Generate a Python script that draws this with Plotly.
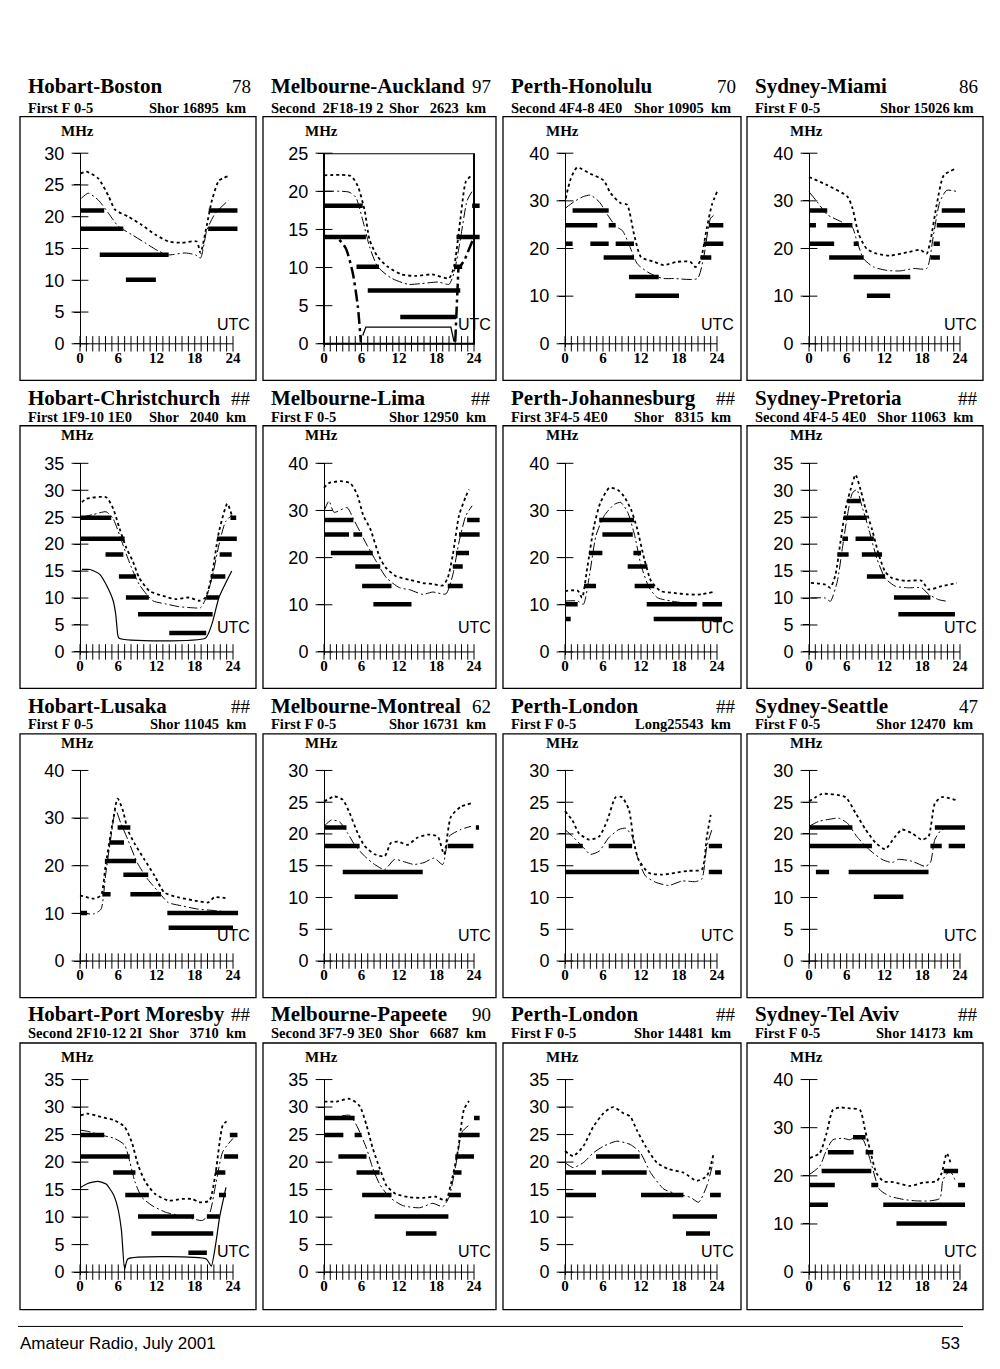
import plotly.graph_objects as go

# --- chart values -----------------------------------------------------------

titles = ["Hobart-Boston", "Melbourne-Auckland", "Perth-Honolulu", "Sydney-Miami",
          "Hobart-Christchurch", "Melbourne-Lima", "Perth-Johannesburg", "Sydney-Pretoria",
          "Hobart-Lusaka", "Melbourne-Montreal", "Perth-London", "Sydney-Seattle",
          "Hobart-Port Moresby", "Melbourne-Papeete", "Perth-London", "Sydney-Tel Aviv"]
numbers = ["78", "97", "70", "86", "##", "##", "##", "##",
           "##", "62", "##", "47", "##", "90", "##", "##"]
modes = ["First F 0-5", "Second  2F18-19 2", "Second 4F4-8 4E0", "First F 0-5",
         "First 1F9-10 1E0", "First F 0-5", "First 3F4-5 4E0", "Second 4F4-5 4E0",
         "First F 0-5", "First F 0-5", "First F 0-5", "First F 0-5",
         "Second 2F10-12 2I", "Second 3F7-9 3E0", "First F 0-5", "First F 0-5"]
paths = ["Shor 16895  km", "Shor   2623  km", "Shor 10905  km", "Shor 15026 km",
         "Shor   2040  km", "Shor 12950  km", "Shor   8315  km", "Shor 11063  km",
         "Shor 11045  km", "Shor 16731  km", "Long25543  km", "Shor 12470  km",
         "Shor   3710  km", "Shor   6687  km", "Shor 14481  km", "Shor 14173  km"]
y_max = [30, 25, 40, 40, 35, 40, 40, 35, 40, 30, 30, 30, 35, 35, 35, 40]
y_step = [5, 5, 10, 10, 5, 10, 10, 5, 10, 5, 5, 5, 5, 5, 5, 10]
hour_ticks = [0, 6, 12, 18, 24]
hours = list(range(25))

# (UTC hour, MHz) -- upper dotted curve, lower thin curve
boston_upper = [(0.1, 26.8), (1, 27.1), (2.9, 26), (4.5, 23.2), (5.5, 21.1), (7.6, 20), (9.7, 18.7),
                (11.8, 17.2), (13.9, 16.1), (16, 15.9), (18.3, 16.1), (18.9, 14.3), (19.9, 18.7),
                (20.7, 22.6), (21.8, 25.7), (23.3, 26.4)]
boston_lower = [(0.2, 22.9), (1.3, 23.7), (2.9, 22.6), (4.5, 20.5), (6, 18.5), (8.1, 17.2), (10.2, 15.9),
                (12.3, 14.6), (13.9, 14), (16.5, 14.3), (18.1, 14), (18.9, 13.5), (19.9, 17.9),
                (21.2, 20.5), (23.3, 22.6)]
# (band MHz, from hour, to hour)
boston_bars = [(21, 0, 3.8), (18.1, 0, 6.8), (14, 3.1, 13.9), (10.1, 7.2, 11.9), (21, 20.2, 24.7),
               (18.1, 20.1, 24.7)]

auckland_upper = [(0, 22.1), (4.3, 22), (5.4, 20.7), (6.5, 17.5), (7.3, 13.6), (8.6, 11.4), (10.2, 10.1),
                  (12.4, 9.1), (14.6, 8.9), (17.3, 9.1), (20, 8.6), (20.8, 10.1), (21.8, 16.2),
                  (22.7, 21.3), (23.5, 22)]
auckland_lower = [(0, 20), (4, 19.9), (5.1, 19.2), (6.2, 16.2), (7.3, 12.7), (8.6, 10.1), (10.8, 8.6),
                  (13.5, 7.8), (15.6, 7.9), (18.3, 8.1), (20, 7.8), (20.8, 9.3), (21.8, 13.6),
                  (22.9, 18.8), (23.7, 20)]
auckland_low_a = [(0, 14), (2.2, 13.8), (3.5, 12.5), (4.6, 9.3), (5.4, 5), (5.9, 0.2)]
auckland_floor = [(6.2, 1.1), (6.7, 2.2), (20.3, 2.2), (20.8, 0.3)]
auckland_low_b = [(21, 0.3), (21.3, 5), (21.5, 9.8), (22.5, 11), (24, 14)]
auckland_bars = [(18.1, 0, 6.2), (14, 0, 6.7), (10.1, 5.2, 8.8), (7, 7, 21.8), (3.5, 12.2, 21.1),
                 (10.1, 20.8, 22.1), (14, 21.2, 24.9), (18.1, 23.7, 24.9)]

honolulu_upper = [(0.1, 30.5), (0.9, 34.6), (1.9, 37), (4, 35.7), (6.1, 34.3), (7.2, 31.6), (8.8, 29.5),
                  (9.8, 29.2), (10.9, 23), (12, 18.2), (14.1, 17.2), (15.6, 16.5), (17.7, 17.2),
                  (19.8, 17.2), (20.6, 16.1), (21.4, 17.5), (22.4, 24.4), (23.2, 29.2), (24, 31.9)]
honolulu_lower = [(0.1, 28.5), (1.4, 29.8), (2.9, 30.9), (4, 31.2), (5.4, 29.8), (6.7, 27.1), (8, 24.7),
                  (9.1, 23.7), (10.3, 20.2), (11.4, 16.8), (13, 15.1), (14.5, 14.1), (15.6, 13.7),
                  (17.2, 13.7), (20.9, 13.7), (21.9, 18.2), (23, 26.4), (23.7, 27.1)]
honolulu_bars = [(28, 1.2, 6.9), (24.9, 0, 5.1), (24.9, 6.9, 8), (21, 0, 1.2), (21, 4, 6.9), (21, 8, 10.9),
                 (18.1, 6.1, 10.9), (14, 10.1, 14.8), (10.1, 11.1, 18), (18.1, 21.4, 23.1),
                 (21, 21.9, 25), (24.9, 22.7, 25)]

miami_upper = [(0, 35), (2.9, 33.3), (6.1, 30.9), (6.9, 28.5), (7.9, 23), (9.2, 19.9), (10.8, 18.9),
               (12.9, 18.5), (15.6, 19.2), (17.7, 19.7), (18.7, 18.9), (19.3, 21.6), (20.3, 29.2),
               (21.4, 35.3), (23.2, 36.7)]
miami_lower = [(0, 31.9), (1.3, 29.8), (2.9, 27.1), (5, 25.7), (6.9, 24.4), (7.6, 21.6), (8.7, 17.8),
               (10.3, 16.1), (12.4, 15.4), (14.5, 15.3), (16.6, 15.8), (18.7, 15.8), (19.8, 23),
               (20.8, 29.8), (21.9, 32.2), (23.7, 31.9)]
miami_bars = [(28, 0, 2.9), (24.9, 0, 1.1), (24.9, 2.9, 6.9), (21, 0, 4), (21, 7.1, 7.9), (18.1, 3.2, 8.7),
              (14, 7.1, 16.1), (10.1, 9.2, 12.9), (18.1, 19.3, 20.8), (21, 19.8, 20.8),
              (24.9, 20.3, 24.8), (28, 21.1, 24.8)]

christchurch_upper = [(0.3, 27.8), (1, 28.4), (4.1, 28.7), (5.2, 26.6), (6.2, 22.9), (7.3, 19.2),
                      (8.3, 16.8), (9.3, 13.7), (10.9, 11.3), (13, 10.4), (15, 9.8), (17.1, 10.1),
                      (18.7, 9.5), (19.7, 10.1), (20.7, 14.4), (21.8, 22.3), (23.1, 27.5), (23.8, 25.4)]
christchurch_lower = [(0.3, 25), (2.1, 25.5), (4.1, 26), (5.2, 24.7), (6.2, 21.7), (7.3, 18), (8.3, 15),
                      (9.3, 12.5), (11.4, 9.5), (13.5, 8.9), (15.5, 8.4), (17.6, 8.2), (18.9, 8.2),
                      (19.7, 9.8), (20.7, 13.7), (21.8, 19.9), (22.8, 24.1), (23.8, 25.4)]
christchurch_low = [(0.3, 15.3), (1.6, 15.3), (3.1, 14.4), (4.1, 12.5), (5.2, 9.5), (5.6, 7), (5.8, 4.6),
                    (6.1, 2.6), (19.7, 2.6), (20.7, 5.2), (21.8, 10.1), (23.8, 15)]
christchurch_bars = [(24.9, 0, 4.9), (21, 0, 7), (18.1, 4, 6.8), (14, 6.1, 8.8), (10.1, 7.2, 10.8),
                     (7, 9.1, 20.8), (3.5, 14, 19.8), (10.1, 19.8, 21.8), (14, 20.5, 22.8),
                     (18.1, 21.9, 23.8), (21, 21.5, 24.6), (24.9, 23.6, 24.5)]

lima_upper = [(0, 34.8), (0.8, 35.8), (2.6, 36.2), (4.2, 35.8), (5.3, 33.4), (6.3, 28.9), (7.4, 26.1),
              (9, 19.8), (10, 17.7), (11.6, 16), (13.7, 15.3), (15.8, 14.6), (17.4, 14.4), (19, 14.1),
              (19.8, 15.7), (20.6, 20.5), (21.6, 28.9), (22.7, 33), (23.2, 34.4)]
lima_lower = [(0, 29.9), (0.8, 32), (1.6, 29.6), (3.7, 30.6), (4.7, 28.2), (5.8, 25.4), (6.9, 22.6),
              (8.4, 19.1), (10, 15.7), (12.1, 13.6), (13.7, 13.2), (15.8, 12.2), (17.4, 12.7),
              (19.5, 12.3), (20.6, 16.3), (21.6, 23.3), (22.7, 28.9), (23.7, 31)]
lima_bars = [(28, 0, 4.7), (24.9, 0, 4), (24.9, 4.7, 6.1), (21, 1.1, 7.8), (18.1, 5, 9), (14, 6.1, 10.8),
             (10.1, 7.9, 14), (14, 19.8, 22.2), (18.1, 20.6, 22.2), (21, 21.1, 23.2), (24.9, 21.6, 24.9),
             (28, 22.9, 24.9)]

joburg_upper = [(0, 12.9), (2, 13), (2.7, 11.5), (3.5, 17.7), (4.6, 26.8), (5.6, 31.7), (7, 34.8),
                (8.3, 34.4), (9.3, 33), (10.4, 30.3), (11.4, 26.1), (12.5, 19.8), (13.6, 15),
                (15.1, 12.9), (17.2, 12.5), (19.4, 12.2), (21.5, 12.2), (23.3, 12.7)]
joburg_lower = [(0, 10.8), (2, 10.8), (2.9, 10.1), (3.8, 15.7), (4.9, 24.7), (6.2, 28.9), (7.8, 31.3),
                (8.8, 31.7), (9.9, 29.6), (11, 24.7), (12, 18.4), (13.3, 13.6), (14.6, 11.5),
                (16.7, 10.8), (18.8, 10.4), (20.9, 10.2)]
joburg_bars = [(7, 0, 0.9), (10.1, 0, 2), (14, 3, 4.9), (21, 3.8, 5.9), (28, 5.4, 10.9), (24.9, 5.9, 10.7),
               (21, 10.8, 12), (18.1, 9.9, 13), (14, 11, 14.1), (10.1, 12.9, 20.8), (10.1, 21.7, 24.8),
               (7, 14, 24.8)]

pretoria_upper = [(0.3, 12.8), (2.6, 12.5), (3.4, 11.9), (4.2, 14.3), (5, 20.4), (5.8, 26.5), (6.9, 31.3),
                  (7.4, 32.9), (8.2, 30.1), (9, 26.5), (10, 22.8), (11.1, 18), (12.1, 14.9),
                  (13.2, 13.7), (15.3, 13.2), (17.9, 13.2), (19, 11.6), (21.1, 12.2), (23.5, 12.8)]
pretoria_lower = [(0.3, 10), (2.6, 10), (3.4, 9.4), (4.5, 13.1), (5.3, 19.2), (6.1, 25.3), (6.9, 29.5),
                  (7.6, 30.1), (8.4, 27.1), (9.5, 22.8), (10.8, 17.3), (12.1, 13.7), (13.7, 12.2),
                  (15.8, 11.9), (17.9, 11.9), (19, 10.7), (20.6, 9.7), (21.9, 9.4)]
pretoria_bars = [(28, 6.1, 8.2), (24.9, 5.5, 9.2), (21, 5.3, 6.2), (21, 7.4, 10.3), (18.1, 4.5, 6.3),
                 (18.1, 8.4, 11.6), (14, 9.2, 12.1), (10.1, 13.5, 19.3), (7, 14.2, 23.2)]

lusaka_upper = [(0, 13.8), (2.2, 13.1), (3.3, 13.8), (4, 19.9), (5.1, 28.9), (5.9, 34.1), (6.7, 31.7),
                (7.5, 27.5), (8.5, 24.8), (10.1, 21.3), (11.7, 17.9), (13.2, 14.4), (15.3, 13.4),
                (18, 12.7), (20.1, 12.3), (21.1, 13.4), (23.2, 13.1)]
lusaka_lower = [(0, 10.1), (2.2, 9.9), (3.3, 10.9), (4, 17.9), (4.8, 25.5), (5.6, 31.7), (6.4, 28.9),
                (7.5, 25.5), (9, 20.6), (10.6, 17.2), (12.2, 14.7), (13.8, 12.3), (15.9, 11.6),
                (18.5, 10.9), (21.1, 10.6), (23.7, 10.2)]
lusaka_bars = [(10.1, 0, 1.1), (14, 3.5, 4.8), (14, 7.9, 12.7), (21, 3.9, 8.8), (24.9, 4.6, 6.9),
               (28, 5.9, 7.9), (18.1, 6.8, 10.7), (10.1, 13.7, 24.8), (7, 13.9, 24)]

montreal_upper = [(0, 25.1), (1.7, 25.9), (3, 25.4), (4.1, 23.3), (5.4, 20.1), (6.5, 18.1), (8.1, 16.8),
                  (9.7, 16.5), (10.7, 18.6), (11.8, 18.8), (13.4, 18.3), (14.9, 19.4), (16.6, 19.9),
                  (18.2, 19.6), (19.2, 16.8), (20.3, 22.7), (21.9, 24.3), (23.5, 24.8)]
montreal_lower = [(0, 21.2), (1.2, 22.2), (2.5, 21.9), (3.8, 20.1), (4.9, 18.3), (6.5, 16.5), (8.1, 15.2),
                  (9.7, 14.4), (11.3, 16), (12.9, 15.6), (14.4, 15.2), (16, 15.5), (17.6, 16.2),
                  (19, 15.2), (20, 19.6), (21.9, 20.7), (23.5, 21.2)]
montreal_bars = [(21, 0, 3.6), (18.1, 0, 5.7), (14, 3, 15.8), (10.1, 4.9, 11.8), (18.1, 19.8, 23.9),
                 (21, 24.3, 24.8)]

london_long_upper = [(0, 23.6), (1.2, 22.1), (2.2, 20.1), (3.8, 19.1), (5.4, 19.6), (6.7, 22.2), (8, 25.8),
                     (9, 25.8), (10.1, 23.8), (10.9, 18.6), (11.6, 16), (13.2, 13.9), (15.3, 13.6),
                     (17.4, 13.9), (19.5, 14.2), (21.6, 14.4), (22.4, 19.6), (23, 23)]
london_long_lower = [(0, 20.7), (1.2, 19.6), (2.7, 18.1), (4, 16.8), (5.4, 17.3), (6.9, 19.4), (8.5, 20.7),
                     (9.6, 20.9), (10.6, 19.6), (11.4, 16.5), (12.7, 13.4), (14.3, 12.4), (16.4, 11.9),
                     (18.5, 12.6), (20.6, 12.5), (21.6, 12.9), (22.4, 18.1), (23.2, 20.7)]
london_long_bars = [(18.1, 0, 2.8), (18.1, 6.9, 10.6), (18.1, 22.7, 24.8), (14, 0, 11.7), (14, 22.7, 24.8)]

seattle_upper = [(0, 25.1), (2.1, 26.3), (5.8, 25.8), (7.4, 23.3), (9, 20.7), (10.6, 18.6), (12.1, 17.6),
                 (13.7, 19.6), (14.8, 20.7), (16.4, 20.1), (17.9, 19.1), (19, 19.6), (20, 24.8),
                 (21.1, 25.8), (23.5, 25.3)]
seattle_lower = [(0, 21.2), (1.6, 22), (3.2, 22.3), (4.7, 22.5), (6.1, 21.7), (7.6, 19.6), (9.5, 17.6),
                 (11.6, 16), (13.2, 15.5), (14.2, 16), (16.4, 15.7), (18.5, 14.9), (19.3, 15.5),
                 (20, 19.1), (21.1, 20.7), (23.7, 21.2)]
seattle_bars = [(21, 0, 6.9), (21, 20, 24.8), (18.1, 0, 10), (18.1, 19.3, 21.1), (18.1, 22.2, 24.8),
                (14, 1.1, 3.2), (14, 6.3, 19), (10.1, 10.3, 15)]

moresby_upper = [(0.1, 28.5), (1.2, 28.8), (3.3, 28.2), (5.4, 27.6), (7, 26.4), (8.1, 23.7), (9.1, 19.5),
                 (10.2, 16.5), (11.8, 14.2), (13.9, 13), (16, 13.3), (17.6, 13.3), (18.7, 12.7),
                 (20.3, 13), (21.3, 18.3), (22.4, 26.7), (23.2, 27.6)]
moresby_lower = [(0.1, 25.8), (1.2, 25.6), (3.3, 24.9), (5.4, 24.3), (7, 23.1), (7.8, 20.1), (8.6, 16.5),
                 (9.7, 13.6), (11.3, 12.1), (13.4, 10.9), (15.5, 10.3), (17.6, 9.7), (19.2, 9.4),
                 (20.3, 10.6), (21.3, 16), (22.4, 21.9), (24, 24.3)]
moresby_low = [(0.1, 15.4), (1.2, 16.1), (2.8, 16.5), (4.1, 16), (5.2, 14.2), (5.9, 11.8), (6.5, 7.6),
               (7, 0.5), (7.5, 2.4), (19.8, 2.4), (20.6, 1.1), (21.3, 5.2), (21.9, 10), (22.9, 15.4)]
moresby_bars = [(24.9, 0, 3.8), (21, 0, 7.8), (18.1, 5.2, 8.7), (14, 7.1, 10.8), (10.1, 9.1, 17.9),
                (10.1, 19.9, 21.9), (7, 11.2, 20.9), (3.5, 17, 19.9), (14, 21.8, 22.9), (18.1, 21.2, 22.8),
                (21, 22.6, 24.8), (24.9, 23.5, 24.7)]

papeete_upper = [(0, 31), (2, 31), (4.1, 31.5), (5.7, 30.2), (6.8, 26.7), (7.8, 22.5), (8.9, 18.9),
                 (10, 15.7), (11.5, 14.2), (13.7, 13.6), (15.8, 13.5), (17.9, 13.7), (19.5, 13),
                 (20.3, 16), (21.4, 21.9), (22.4, 29.6), (23.2, 31.1)]
papeete_lower = [(0, 28.2), (2, 28.2), (4.1, 28.5), (5.2, 26.7), (6.8, 22.5), (7.8, 18.9), (8.9, 16),
                 (10.5, 13.6), (12.6, 12.1), (15.3, 11.7), (17.4, 12.5), (19, 11.9), (20, 13.6),
                 (21.1, 19.5), (22.1, 25.5), (23.2, 26.7)]
papeete_bars = [(28, 0, 4.9), (24.9, 0, 3.1), (24.9, 4.9, 6), (21, 2.3, 6.8), (18.1, 5.2, 8.9),
                (14, 6.1, 10.8), (10.1, 8.1, 19.9), (7, 13.1, 18), (14, 20, 21.9), (18.1, 20.7, 22),
                (21, 21, 24), (24.9, 21.5, 24.9), (28, 24, 24.9)]

london_short_upper = [(0, 22), (1.3, 21.1), (2.9, 22.9), (4.5, 26.5), (6.1, 28.9), (7.6, 30), (9.2, 28.9),
                      (10.3, 28.3), (11.3, 25.9), (12.7, 22.9), (14.5, 19.9), (16.4, 18.7), (18.7, 18.1),
                      (20.8, 16.6), (22.4, 17.5), (23.5, 21.7)]
london_short_lower = [(0, 19.9), (1.3, 19), (2.9, 19.9), (4.5, 21.7), (6.1, 22.9), (8.2, 23.8), (10.3, 23.2),
                      (11.9, 21.7), (13.5, 18.1), (15.6, 15.1), (17.7, 14.2), (19.8, 13.6), (21.1, 12.7),
                      (22.4, 15.7), (23.5, 20.5)]
london_short_bars = [(18.1, 0, 4.9), (18.1, 5.8, 12.9), (18.1, 23.7, 24.6), (21, 4.9, 11.8), (14, 0, 4.9),
                     (14, 12, 18.7), (14, 22.9, 24.6), (10.1, 17, 24), (7, 19.1, 22.9)]

telaviv_upper = [(0.1, 23.7), (1.7, 24.7), (2.8, 28.9), (3.8, 33.7), (4.9, 34.2), (6.5, 34), (8.1, 33.7),
                 (8.9, 29.6), (9.7, 25.4), (10.7, 20.6), (11.8, 18.9), (13.4, 18.7), (16, 17.9),
                 (18.2, 18.6), (20.3, 18.9), (21.1, 20.6), (21.9, 24.7), (22.6, 22.3)]
telaviv_lower = [(0.1, 20.3), (1.7, 22), (2.8, 25.4), (3.8, 27.5), (5.4, 27.8), (6.5, 27.5), (7.5, 28.2),
                 (8.6, 27.5), (9.7, 23.4), (11.2, 17.2), (12.8, 15.8), (15, 15.1), (17.1, 14.8),
                 (19.2, 14.8), (20.8, 15.3), (21.3, 19.2), (22.4, 21), (23.2, 19.2)]
telaviv_bars = [(28, 7, 9), (24.9, 3, 7.1), (24.9, 9, 10.2), (21, 2, 9.9), (21, 21.4, 23.7), (18.1, 0, 4.1),
                (18.1, 9.9, 11), (18.1, 23.7, 24.8), (14, 0, 3), (14, 11.8, 24.8), (10.1, 13.9, 21.9)]

uppers = [boston_upper, auckland_upper, honolulu_upper, miami_upper,
          christchurch_upper, lima_upper, joburg_upper, pretoria_upper,
          lusaka_upper, montreal_upper, london_long_upper, seattle_upper,
          moresby_upper, papeete_upper, london_short_upper, telaviv_upper]
lowers = [boston_lower, auckland_lower, honolulu_lower, miami_lower,
          christchurch_lower, lima_lower, joburg_lower, pretoria_lower,
          lusaka_lower, montreal_lower, london_long_lower, seattle_lower,
          moresby_lower, papeete_lower, london_short_lower, telaviv_lower]
bars = [boston_bars, auckland_bars, honolulu_bars, miami_bars,
        christchurch_bars, lima_bars, joburg_bars, pretoria_bars,
        lusaka_bars, montreal_bars, london_long_bars, seattle_bars,
        moresby_bars, papeete_bars, london_short_bars, telaviv_bars]

# --- page geometry (pixels) -------------------------------------------------

W, H = 1000, 1369
col_x0 = [80, 324, 565, 809]
col_x24 = [233, 474, 717, 960]
row_y0 = [338, 650, 963, 1278]
row_ytop = [145, 459, 770, 1083]
box_left = [20, 263, 503, 747]
box_right = [256, 496, 741, 983]
box_top = [108, 421, 733, 1046]
box_bottom = [375, 687, 1000, 1316]
title_y = [77, 393, 705, 1017]
sub_y = [99, 412, 723, 1036]
mhz_y = [123, 430, 742, 1060]
utc_y = [318, 625, 937, 1257]

X_LO, X_HI = -1, 25.5
Y_PAD = 0.015

NB = "\u00a0"
SERIF = "Liberation Serif"
SANS = "Liberation Sans"


def fx(p):
    return p / W


def fy(p):
    return 1 - p / H


def xy(pairs):
    return [p[0] for p in pairs], [p[1] for p in pairs]


def bar_xy(segs):
    xs, ys = [], []
    for band, start, end in segs:
        xs += [start, end, None]
        ys += [band, band, None]
    return xs, ys


def label(text, x, y, size, family=SERIF, xanchor="center"):
    return dict(text=text, x=fx(x), y=fy(y), xref="paper", yref="paper",
                xanchor=xanchor, yanchor="middle", showarrow=False,
                font=dict(family=family, size=size, color="black"))


fig = go.Figure()
layout = {}
shapes = []
annotations = []

for i in range(16):
    r, c = divmod(i, 4)
    n = "" if i == 0 else str(i + 1)
    xref, yref = "x" + n, "y" + n
    x0, x24 = col_x0[c], col_x24[c]
    y0, ytop = row_y0[r], row_ytop[r]
    ymax = y_max[i]
    pph = (x24 - x0) / 24
    ppm = (y0 - ytop) / ymax

    layout["xaxis" + n] = dict(
        domain=[fx(x0 + X_LO * pph), fx(x24 + (X_HI - 24) * pph)],
        range=[X_LO, X_HI], anchor=yref, tickvals=hour_ticks, ticks="",
        showline=False, showgrid=False, zeroline=False, ticklabelstandoff=0,
        tickfont=dict(family=SERIF, size=15, color="black", weight="bold"))
    ticks = list(range(0, ymax + 1, y_step[i]))
    layout["yaxis" + n] = dict(
        domain=[fy(y0 + Y_PAD * ymax * ppm), fy(ytop)],
        range=[-Y_PAD * ymax, ymax], anchor="free", position=fx(x0),
        tickvals=ticks, ticks="outside", ticklen=6, tickcolor="black",
        showline=True, linecolor="black", linewidth=1,
        showgrid=False, zeroline=False, ticklabelstandoff=6,
        tickfont=dict(family=SANS, size=18, color="black"))

    # axis with hour ticks
    fig.add_trace(go.Scatter(x=hours, y=[0] * len(hours), xaxis=xref, yaxis=yref,
                             mode="lines+markers", cliponaxis=False,
                             line=dict(color="black", width=1),
                             marker=dict(symbol="line-ns", size=11,
                                         line=dict(color="black", width=1))))
    fig.add_trace(go.Scatter(x=[0] * len(ticks), y=ticks, xaxis=xref, yaxis=yref,
                             mode="markers", cliponaxis=False,
                             marker=dict(symbol="line-ew", size=12,
                                         line=dict(color="black", width=1))))

    ux, uy = xy(uppers[i])
    fig.add_trace(go.Scatter(x=ux, y=uy, xaxis=xref, yaxis=yref, mode="lines",
                             line=dict(color="black", width=1.8, dash="3px,3px",
                                       shape="spline", smoothing=0.6)))
    lx, ly = xy(lowers[i])
    fig.add_trace(go.Scatter(x=lx, y=ly, xaxis=xref, yaxis=yref, mode="lines",
                             line=dict(color="black", width=1, dash="10px,3px,2px,3px",
                                       shape="spline", smoothing=0.6)))
    bx, by = bar_xy(bars[i])
    fig.add_trace(go.Scatter(x=bx, y=by, xaxis=xref, yaxis=yref, mode="lines",
                             line=dict(color="black", width=4.5)))

    # frame, titles
    shapes.append(dict(type="rect", xref="paper", yref="paper",
                       x0=fx(box_left[c]), x1=fx(box_right[c]),
                       y0=fy(box_bottom[r]), y1=fy(box_top[r]),
                       line=dict(color="black", width=1.3)))
    annotations += [
        label("<b>" + titles[i] + "</b>", box_left[c] + 6, title_y[r], 21, xanchor="left"),
        label(numbers[i], box_right[c] - 3, title_y[r], 19, xanchor="right"),
        label("<b>" + modes[i].replace(" ", NB) + "</b>", box_left[c] + 6, sub_y[r], 14.5,
              xanchor="left"),
        label("<b>" + paths[i].replace(" ", NB) + "</b>", box_right[c] - 8, sub_y[r], 14.5,
              xanchor="right"),
        label("<b>MHz</b>", x0 - 3, mhz_y[r], 15),
        label("UTC", x24, utc_y[r], 16, family=SANS),
    ]

# extra curves on the short paths
ax, ay = xy(auckland_low_a)
fig.add_trace(go.Scatter(x=ax, y=ay, xaxis="x2", yaxis="y2", mode="lines",
                         line=dict(color="black", width=2.5, dash="12px,4px,3px,4px",
                                   shape="spline", smoothing=0.6)))
ax, ay = xy(auckland_floor)
fig.add_trace(go.Scatter(x=ax, y=ay, xaxis="x2", yaxis="y2", mode="lines",
                         line=dict(color="black", width=1.3)))
ax, ay = xy(auckland_low_b)
fig.add_trace(go.Scatter(x=ax, y=ay, xaxis="x2", yaxis="y2", mode="lines",
                         line=dict(color="black", width=2.5, dash="12px,4px,3px,4px")))
shapes.append(dict(type="rect", xref="x2", yref="y2", x0=0, x1=24, y0=0, y1=y_max[1],
                   line=dict(color="black", width=2)))
ax, ay = xy(christchurch_low)
fig.add_trace(go.Scatter(x=ax, y=ay, xaxis="x5", yaxis="y5", mode="lines",
                         line=dict(color="black", width=1.2, shape="spline", smoothing=0.5)))
ax, ay = xy(moresby_low)
fig.add_trace(go.Scatter(x=ax, y=ay, xaxis="x13", yaxis="y13", mode="lines",
                         line=dict(color="black", width=1.2, shape="spline", smoothing=0.5)))

# footer
shapes.append(dict(type="line", xref="paper", yref="paper", x0=fx(18), x1=fx(963),
                   y0=fy(1333), y1=fy(1333), line=dict(color="black", width=1)))
annotations += [
    label("Amateur Radio, July 2001", 18, 1350, 17, family=SANS, xanchor="left"),
    label("53", 962, 1350, 17, family=SANS, xanchor="right"),
]

fig.update_layout(width=W, height=H, margin=dict(l=0, r=0, t=0, b=0),
                  paper_bgcolor="white", plot_bgcolor="white",
                  showlegend=False, hovermode=False,
                  shapes=shapes, annotations=annotations, **layout)

fig.write_html("out.html", config={"displayModeBar": False},
               post_script="document.body.style.margin='0';")
